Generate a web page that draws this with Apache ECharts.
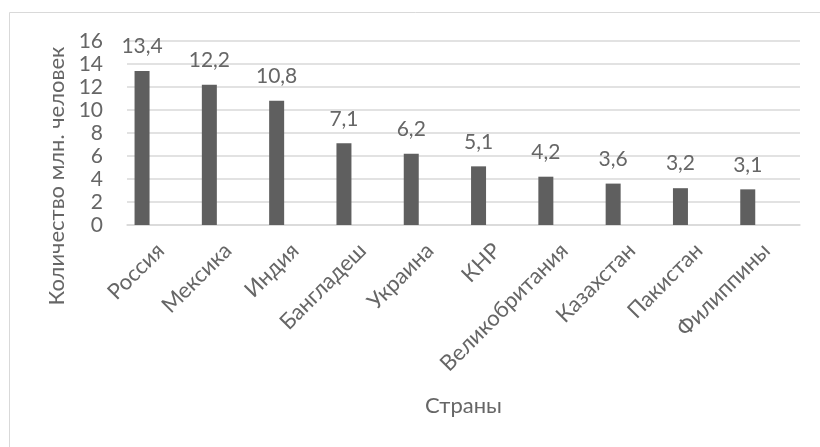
<!DOCTYPE html>
<html>
<head>
<meta charset="utf-8">
<style>html,body{margin:0;padding:0;background:#fff;}#c{width:820px;height:447px;}</style>
<script src="https://cdn.jsdelivr.net/npm/echarts@6/dist/echarts.min.js"></script>
</head>
<body>
<div id="c"></div>
<script>
const categories = ['Россия','Мексика','Индия','Бангладеш','Украина','КНР','Великобритания','Казахстан','Пакистан','Филиппины'];
const values = [13.4, 12.2, 10.8, 7.1, 6.2, 5.1, 4.2, 3.6, 3.2, 3.1];
const emptySeries = [null, null, null, null, null, null, null, null, null, null];
const xTitle = 'Страны';
const yTitle = 'Количество млн. человек';

const txt = '#666666';
const font = 'Lato';
const chart = echarts.init(document.getElementById('c'));
chart.setOption({
  animation: false,
  backgroundColor: '#fff',
  grid: {left: 127, right: 20, top: 41, bottom: 222},
  xAxis: {
    type: 'category',
    data: categories,
    axisLine: {lineStyle: {color: '#d9d9d9', width: 1.5}},
    axisTick: {show: false},
    axisLabel: {rotate: 45, color: txt, fontFamily: font, fontSize: 22, margin: 22, interval: 0},
    name: xTitle,
    nameLocation: 'middle',
    nameGap: 170,
    nameTextStyle: {color: txt, fontFamily: font, fontSize: 22}
  },
  yAxis: {
    type: 'value',
    min: 0, max: 16, interval: 2,
    axisLine: {show: false},
    axisTick: {show: false},
    splitLine: {lineStyle: {color: '#d9d9d9', width: 1.5}},
    axisLabel: {color: txt, fontFamily: font, fontSize: 21, margin: 24}
  },
  series: [
    {
      type: 'bar',
      data: values,
      barWidth: 15,
      barGap: '148%',
      itemStyle: {color: '#5f5f5f'},
      label: {
        show: true, position: 'top', distance: 14,
        color: txt, fontFamily: font, fontSize: 21,
        formatter: p => String(p.value).replace('.', ',')
      }
    },
    {type: 'bar', data: emptySeries, barWidth: 15}
  ],
  graphic: [
    {type: 'rect', shape: {x: 9.5, y: 12.5, width: 900, height: 600}, style: {fill: null, stroke: '#d9d9d9', lineWidth: 1}, silent: true},
    {type: 'text', x: 57, y: 176, rotation: Math.PI / 2,
     style: {text: yTitle, fill: txt, font: '22px Lato', align: 'center', verticalAlign: 'middle'}}
  ]
});
</script>
</body>
</html>
